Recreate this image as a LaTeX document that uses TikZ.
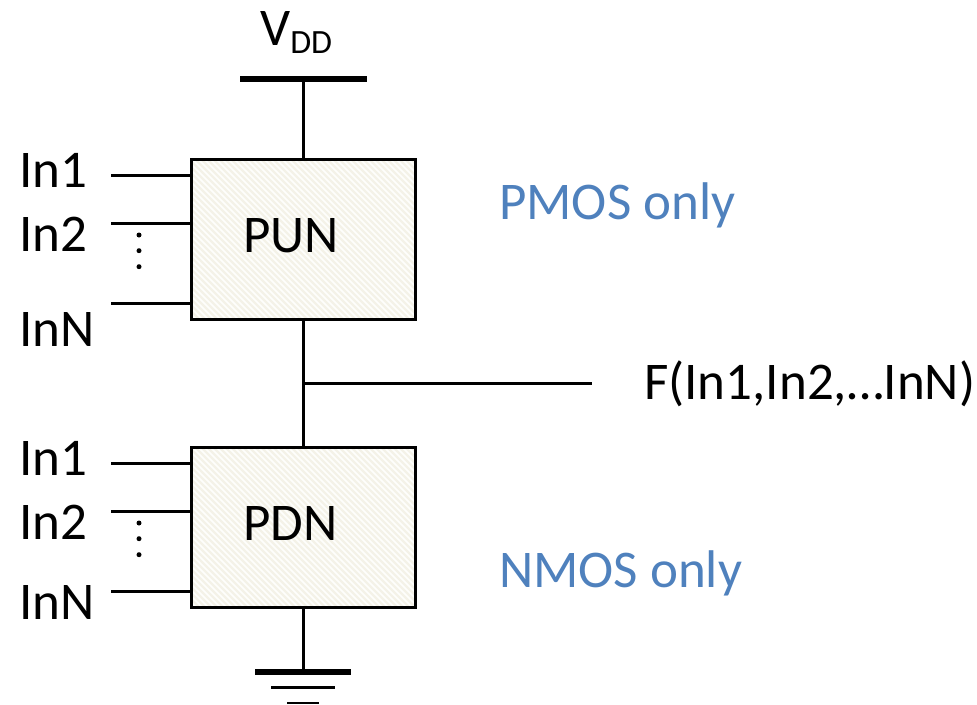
\documentclass[tikz,border=0pt]{standalone}
\usepackage{fontspec}
\setmainfont{Carlito}
\definecolor{hatchbg}{HTML}{FEFEFC}
\definecolor{hatchln}{HTML}{F4F2E8}
\definecolor{bluetxt}{HTML}{4F81BD}
\tikzset{
  x=1pt,y=-1pt,
  wire/.style={draw=black,line width=3pt},
  block/.style={draw=black,line width=3pt,fill=hatchbg,minimum width=224pt,minimum height=160pt,inner sep=0pt,
    path picture={\foreach \k in {-200,-194,...,400}{\draw[hatchln,line width=2.4pt] (path picture bounding box.north west) ++(\k pt,0pt) -- ++(170pt,-170pt);}}},
  lbl/.style={inner sep=0pt,anchor=base west,font=\fontsize{53}{53}\selectfont},
  bluelbl/.style={lbl,text=bluetxt},
  dotmark/.style={circle,fill=black,inner sep=0pt,minimum size=5pt},
}
\begin{document}
\begin{tikzpicture}
\useasboundingbox (0,0) rectangle (977,704);
\node[block] (pun) at (303,239) {};
\node[block] (pdn) at (303,527) {};
\node[lbl] (punt) at (243,252) {PUN};
\node[lbl] (pdnt) at (243,540) {PDN};
% supply
\coordinate (vl) at (240,79); \coordinate (vr) at (367,79); \coordinate (vm) at (303,79);
\draw[line width=5.5pt] (vl) -- (vr);
\draw[wire] (vm) -- (pun.north);
\node[lbl] (vdd) at (260,45) {V\raisebox{-9pt}{\fontsize{34}{34}\selectfont DD}};
% output
\draw[wire] (pun.south) -- (pdn.north);
\coordinate (tap) at (303,383); \coordinate (fend) at (592,383);
\draw[wire] (tap) -- (fend);
\node[lbl] (f) at (644,399) {F(In1,In2,…InN)};
% ground
\coordinate (gm) at (303,672);
\draw[wire] (pdn.south) -- (gm);
\coordinate (g1l) at (255,672); \coordinate (g1r) at (351,672);
\coordinate (g2l) at (271,687.5); \coordinate (g2r) at (335,687.5);
\coordinate (g3l) at (287,703); \coordinate (g3r) at (319,703);
\draw[line width=6.5pt] (g1l) -- (g1r);
\draw[line width=3.2pt] (g2l) -- (g2r);
\draw[line width=2.6pt] (g3l) -- (g3r);
% inputs
\foreach \n/\yy in {a/175,b/223,c/303}{\coordinate (p\n) at (111,\yy);\draw[wire] (p\n) -- (pun.west |- p\n);}
\foreach \n/\yy in {a/463,b/511,c/591}{\coordinate (q\n) at (111,\yy);\draw[wire] (q\n) -- (pdn.west |- q\n);}
\node[lbl] (pi1) at (19,187) {In1};
\node[lbl] (pi2) at (19,251) {In2};
\node[lbl] (pi3) at (19,346) {InN};
\node[lbl] (qi1) at (19,475) {In1};
\node[lbl] (qi2) at (19,539) {In2};
\node[lbl] (qi3) at (19,619) {InN};
\foreach \n/\yy in {a/235,b/250.7,c/266.7}{\node[dotmark] (pd\n) at (139,\yy) {};}
\foreach \n/\yy in {a/523,b/538.7,c/554.7}{\node[dotmark] (qd\n) at (139,\yy) {};}
\node[bluelbl] (pm) at (499,219) {PMOS only};
\node[bluelbl] (nm) at (499,587) {NMOS only};
\end{tikzpicture}
\end{document}
